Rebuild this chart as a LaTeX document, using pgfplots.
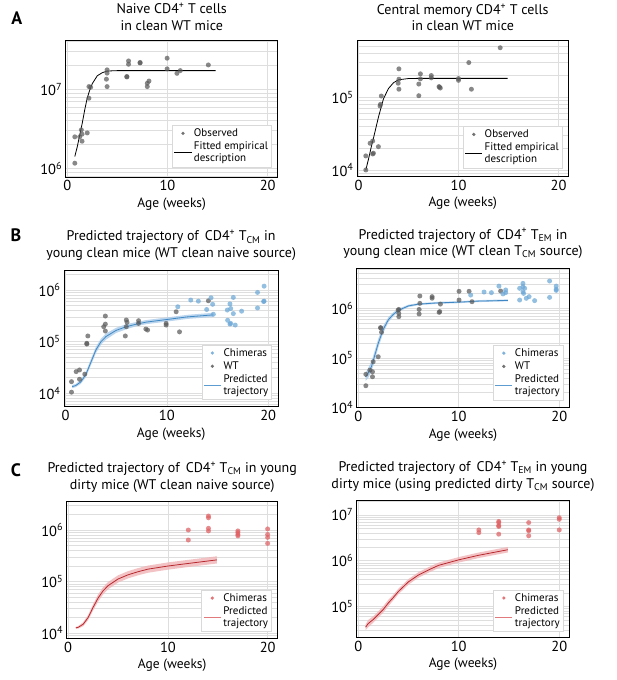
\documentclass[border=0pt]{standalone}
\usepackage{fontspec}
\setmainfont{PT Sans}
\usepackage{pgfplots}
\pgfplotsset{compat=1.18}
\definecolor{ptgray}{HTML}{5A5A5A}
\definecolor{chiblue}{HTML}{6AA6D6}
\definecolor{lineblue}{HTML}{3F88C5}
\definecolor{legblue}{HTML}{5C9CD0}
\definecolor{bandblue}{HTML}{A9CBE8}
\definecolor{chired}{HTML}{DE5F62}
\definecolor{linered}{HTML}{B8292F}
\definecolor{bandred}{HTML}{F0B3B5}
\definecolor{legred}{HTML}{E07A7C}
\pgfplotsset{
 every axis/.append style={
  scale only axis, anchor=south west,
  xmin=-0.15, xmax=21, xtick={0,10,20}, xticklabels={0,10,20}, minor x tick num=0,
  grid=both,
  major grid style={draw=black!13, line width=0.6pt},
  minor grid style={draw=black!13, line width=0.55pt},
  axis line style={line width=0.9pt},
  major tick length=0pt, minor tick length=0pt,
  tick label style={font=\fontsize{14.5}{16}\selectfont},
  xlabel={Age (weeks)},
  xlabel style={font=\fontsize{13.5}{15}\selectfont, yshift=0pt},
  title style={font=\fontsize{14}{16.5}\selectfont, align=center},
  legend cell align=left,
 },
}
\tikzset{
 mypts/.style={only marks, mark=*, mark size=2.5pt, mark options={fill=#1, draw=#1, draw opacity=0, fill opacity=0.72}},
 mylegpts/.style={only marks, mark=*, mark size=1.8pt, mark options={fill=#1, draw=#1, draw opacity=0, fill opacity=0.85}},
 myleg/.style={anchor=south east, draw=black!15, fill=white, font=\fontsize{11}{12}\selectfont, cells={align=left}, inner sep=1.5pt},
}
\begin{document}
\begin{tikzpicture}
\useasboundingbox (0,0) rectangle (617pt,680pt);
\node[font=\bfseries\fontsize{18}{18}\selectfont] at (16.7pt,662pt) {A};
\node[font=\bfseries\fontsize{18}{18}\selectfont] at (16pt,445pt) {B};
\node[font=\bfseries\fontsize{18}{18}\selectfont] at (16pt,210pt) {C};

% ---------------- A left
\begin{axis}[ymode=log, at={(65.7pt,503pt)}, width=212pt, height=137pt,
  ymin=7.76e5, ymax=4.2e7, ytick={1e6,1e7}, yticklabels={10\textsuperscript{6},10\textsuperscript{7}},
  minor ytick={8e5,9e5,2e6,3e6,4e6,5e6,6e6,7e6,8e6,9e6,2e7,3e7,4e7},
  title={Naive CD4\textsuperscript{+} T cells\\in clean WT mice},
  legend style={myleg, at={(0.972,0.073)}}]
\addplot[mypts=ptgray, forget plot] coordinates {(0.76,1.16e6)(0.76,2.5e6)(1.25,2.5e6)(1.41,3.06e6)(1.48,2.7e6)(1.48,2.2e6)(2.0,2.8e6)(2.17,7.7e6)(2.17,1.08e7)(2.34,1.06e7)(3.91,1.34e7)(3.98,1.76e7)(3.98,1.6e7)(3.98,1.08e7)(5.95,1.45e7)(5.95,1.43e7)(6.12,2.28e7)(6.12,2.07e7)(7.27,2.18e7)(7.27,2.15e7)(7.99,1.19e7)(7.99,1.08e7)(8.16,1.27e7)(9.97,2.47e7)(9.97,1.81e7)(10.95,1.59e7)(11.28,1.72e7)(14.08,2.03e7)};
\addplot[black, line width=0.8pt, forget plot] coordinates {(0.76,1.41e6)(1.0,1.86e6)(1.25,2.63e6)(1.5,3.72e6)(1.75,5.5e6)(2.0,7.76e6)(2.25,9.77e6)(2.5,1.175e7)(3.0,1.48e7)(3.5,1.62e7)(4.0,1.70e7)(5.0,1.72e7)(14.8,1.72e7)};
\addlegendimage{mylegpts=ptgray}\addlegendentry{Observed}
\addlegendimage{color=black, line width=0.8pt}\addlegendentry{Fitted empirical\\description}
\end{axis}

% ---------------- A right
\begin{axis}[ymode=log, at={(357pt,503.5pt)}, width=211.5pt, height=136pt,
  ymin=8.13e3, ymax=6.04e5, ytick={1e4,1e5}, yticklabels={10\textsuperscript{4},10\textsuperscript{5}},
  minor ytick={9e3,2e4,3e4,4e4,5e4,6e4,7e4,8e4,9e4,2e5,3e5,4e5,5e5,6e5},
  title={Central memory CD4\textsuperscript{+} T cells\\in clean WT mice},
  legend style={myleg, at={(0.972,0.062)}}]
\addplot[mypts=ptgray, forget plot] coordinates {(0.73,1.0e4)(0.73,1.56e4)(1.16,2.33e4)(1.42,2.5e4)(1.42,1.66e4)(1.49,1.7e4)(1.99,2.09e4)(2.15,7.6e4)(2.2,8.0e4)(2.28,1.04e5)(4.04,2.46e5)(4.04,1.77e5)(3.97,1.56e5)(4.04,1.29e5)(6.03,1.05e5)(6.03,1.52e5)(6.19,2.1e5)(6.19,1.79e5)(7.28,1.99e5)(7.28,1.85e5)(8.05,1.4e5)(8.18,1.34e5)(8.1,1.38e5)(10.0,1.81e5)(10.0,1.71e5)(11.03,3.0e5)(11.29,1.29e5)(14.17,4.8e5)};
\addplot[black, line width=0.8pt, forget plot] coordinates {(0.73,1.0e4)(1.0,1.41e4)(1.25,2.0e4)(1.5,2.75e4)(2.0,5.37e4)(2.5,9.55e4)(3.0,1.32e5)(3.5,1.585e5)(4.0,1.74e5)(5.0,1.81e5)(6.0,1.82e5)(14.9,1.82e5)};
\addlegendimage{mylegpts=ptgray}\addlegendentry{Observed}
\addlegendimage{color=black, line width=0.8pt}\addlegendentry{Fitted empirical\\description}
\end{axis}

% ---------------- B left
\begin{axis}[ymode=log, at={(64pt,273.3pt)}, width=214.3pt, height=136.7pt,
  ymin=5.5e3, ymax=2.45e6, ytick={1e4,1e5,1e6}, yticklabels={10\textsuperscript{4},10\textsuperscript{5},10\textsuperscript{6}},
  minor ytick={6e3,7e3,8e3,9e3,2e4,3e4,4e4,5e4,6e4,7e4,8e4,9e4,2e5,3e5,4e5,5e5,6e5,7e5,8e5,9e5,2e6},
  title={Predicted trajectory of\, CD4\textsuperscript{+} T\textsubscript{CM} in\\young clean mice (WT clean naive source)},
  legend style={myleg, at={(0.97,0.05)}}]
\addplot[mypts=ptgray, forget plot] coordinates {(0.59,1.68e4)(0.59,1.05e4)(1.05,2.63e4)(1.38,2.83e4)(1.38,1.87e4)(1.9,2.35e4)(2.1,9.3e4)(2.1,9.0e4)(2.2,1.29e5)(3.93,3.14e5)(3.77,1.95e5)(3.93,2.19e5)(3.93,1.61e5)(5.9,1.29e5)(6.0,2.63e5)(6.0,1.95e5)(6.07,2.37e5)(7.21,2.55e5)(7.21,2.26e5)(7.93,1.76e5)(8.1,1.68e5)(9.93,2.26e5)(9.93,2.1e5)(10.92,3.8e5)(11.25,1.55e5)(14.1,6.2e5)};
\addplot[mypts=chiblue, forget plot] coordinates {(11.08,4.75e5)(12.36,6.4e5)(13.11,6.1e5)(13.93,4.2e5)(14.36,7.1e5)(14.52,5.3e5)(14.59,3.4e5)(15.97,4.1e5)(16.23,5.4e5)(16.3,4.4e5)(16.56,7.2e5)(16.56,3.5e5)(16.0,2.6e5)(16.23,2.2e5)(16.3,2.26e5)(16.75,2.1e5)(17.38,3.9e5)(18.95,9.0e5)(18.95,4.5e5)(19.6,1.19e6)(19.6,6.1e5)(19.55,6.0e5)};
\addplot[fill=bandblue, draw=none, fill opacity=0.8, forget plot] coordinates {(0.66,1.45e4)(1.0,1.51e4)(1.5,1.82e4)(2.0,2.57e4)(2.5,4.57e4)(3.0,7.94e4)(3.5,1.148e5)(4.0,1.446e5)(5,1.86e5)(6,2.19e5)(7,2.40e5)(8,2.63e5)(10,2.95e5)(12,3.31e5)(14.6,3.63e5)
 (14.6,3.02e5)(12,2.76e5)(10,2.45e5)(8,2.19e5)(7,2.0e5)(6,1.74e5)(5,1.48e5)(4.0,1.10e5)(3.5,8.71e4)(3.0,6.03e4)(2.5,3.47e4)(2.0,2.04e4)(1.5,1.515e4)(1.0,1.315e4)(0.66,1.26e4)};
\addplot[lineblue, line width=0.8pt, forget plot] coordinates {(0.66,1.35e4)(1.0,1.41e4)(1.5,1.66e4)(2.0,2.29e4)(2.5,3.98e4)(3.0,6.92e4)(3.5,1.0e5)(4.0,1.26e5)(5,1.66e5)(6,1.95e5)(7,2.19e5)(8,2.40e5)(10,2.69e5)(12,3.02e5)(14.6,3.31e5)};
\addlegendimage{mylegpts=chiblue}\addlegendentry{Chimeras}
\addlegendimage{mylegpts=ptgray}\addlegendentry{WT}
\addlegendimage{color=legblue, line width=1.2pt}\addlegendentry{Predicted\\trajectory}
\end{axis}

% ---------------- B right
\begin{axis}[ymode=log, at={(356.7pt,272.3pt)}, width=212.6pt, height=139.4pt,
  ymin=1e4, ymax=6.4e6, ytick={1e4,1e5,1e6}, yticklabels={10\textsuperscript{4},10\textsuperscript{5},10\textsuperscript{6}},
  minor ytick={2e4,3e4,4e4,5e4,6e4,7e4,8e4,9e4,2e5,3e5,4e5,5e5,6e5,7e5,8e5,9e5,2e6,3e6,4e6,5e6,6e6},
  title={Predicted trajectory of\, CD4\textsuperscript{+} T\textsubscript{EM} in\\young clean mice (WT clean T\textsubscript{CM} source)},
  legend style={myleg, at={(0.972,0.055)}}]
\addplot[mypts=ptgray, forget plot] coordinates {(0.76,2.77e4)(0.76,4.7e4)(1.16,5.7e4)(1.42,5.3e4)(1.42,4.2e4)(1.49,8.4e4)(1.99,1.06e5)(2.22,4.1e5)(2.25,4.0e5)(2.32,3.3e5)(3.97,9.2e5)(4.04,9.5e5)(4.04,7.9e5)(4.04,6.8e5)(6.13,1.77e6)(6.13,1.26e6)(6.06,9.5e5)(6.06,7.7e5)(7.35,1.72e6)(7.35,1.6e6)(8.11,8.6e5)(8.05,8.3e5)(8.18,1.22e6)(10.03,2.2e6)(10.03,1.47e6)(11.03,2.2e6)(11.32,1.36e6)(14.17,2.23e6)};
\addplot[mypts=chiblue, forget plot] coordinates {(11.19,1.85e6)(12.52,2.13e6)(13.25,2.07e6)(14.0,2.8e6)(14.4,1.95e6)(14.67,2.34e6)(14.67,2.07e6)(16.06,2.53e6)(16.06,1.47e6)(16.39,3.18e6)(16.39,2.73e6)(16.56,2.53e6)(16.39,2.17e6)(16.45,2.0e6)(16.72,1.59e6)(17.0,1.72e6)(17.55,1.43e6)(19.04,3.55e6)(19.04,1.66e6)(19.7,2.8e6)(19.7,2.42e6)(19.7,2.3e6)};
\addplot[fill=bandblue, draw=none, fill opacity=0.8, forget plot] coordinates {(0.73,5.01e4)(1.0,6.31e4)(1.32,8.51e4)(1.5,1.12e5)(2.0,2.46e5)(2.5,4.47e5)(3.0,6.61e5)(3.5,8.32e5)(4.0,9.78e5)(5,1.186e6)(6,1.273e6)(8,1.351e6)(10,1.393e6)(12,1.466e6)(14.9,1.513e6)
 (14.9,1.38e6)(12,1.337e6)(10,1.27e6)(8,1.232e6)(6,1.161e6)(5,1.058e6)(4.0,8.51e5)(3.5,6.93e5)(3.0,5.25e5)(2.5,3.23e5)(2.0,1.63e5)(1.5,7.08e4)(1.32,5.37e4)(1.0,3.98e4)(0.73,3.47e4)};
\addplot[lineblue, line width=0.8pt, forget plot] coordinates {(0.73,4.17e4)(1.0,5.01e4)(1.32,6.76e4)(1.5,8.91e4)(2.0,2.0e5)(2.5,3.80e5)(3.0,5.89e5)(3.5,7.59e5)(4.0,9.12e5)(5,1.12e6)(6,1.216e6)(8,1.29e6)(10,1.33e6)(12,1.40e6)(14.9,1.445e6)};
\addlegendimage{mylegpts=chiblue}\addlegendentry{Chimeras}
\addlegendimage{mylegpts=ptgray}\addlegendentry{WT}
\addlegendimage{color=legblue, line width=1.2pt}\addlegendentry{Predicted\\trajectory}
\end{axis}

% ---------------- C left
\begin{axis}[ymode=log, at={(66.7pt,41.7pt)}, width=211pt, height=136.6pt,
  ymin=7.9e3, ymax=3.55e6, ytick={1e4,1e5,1e6}, yticklabels={10\textsuperscript{4},10\textsuperscript{5},10\textsuperscript{6}},
  minor ytick={8e3,9e3,2e4,3e4,4e4,5e4,6e4,7e4,8e4,9e4,2e5,3e5,4e5,5e5,6e5,7e5,8e5,9e5,2e6,3e6},
  title={Predicted trajectory of\, CD4\textsuperscript{+} T\textsubscript{CM} in young\\dirty mice (WT clean naive source)},
  legend style={myleg, at={(0.972,0.048)}}]
\addplot[mypts=chired, forget plot] coordinates {(12.04,1.0e6)(12.04,6.4e5)(14.06,1.87e6)(14.06,1.73e6)(14.06,1.08e6)(14.06,9.6e5)(17.01,9.6e5)(17.01,8.9e5)(17.01,8.2e5)(17.01,7.7e5)(19.99,1.05e6)(19.99,8.2e5)(19.99,7.2e5)(19.99,5.5e5)};
\addplot[fill=bandred, draw=none, fill opacity=0.8, forget plot] coordinates {(0.76,1.32e4)(1.0,1.36e4)(1.5,1.62e4)(2,2.24e4)(2.5,3.63e4)(3,5.62e4)(3.5,7.76e4)(4,9.77e4)(5,1.32e5)(6,1.59e5)(7,1.82e5)(8,2.04e5)(10,2.35e5)(12,2.63e5)(14.9,3.09e5)
 (14.9,2.24e5)(12,1.91e5)(10,1.70e5)(8,1.48e5)(7,1.32e5)(6,1.15e5)(5,9.55e4)(4,7.08e4)(3.5,5.62e4)(3,4.07e4)(2.5,2.75e4)(2,1.78e4)(1.5,1.35e4)(1.0,1.22e4)(0.76,1.20e4)};
\addplot[linered, line width=0.8pt, forget plot] coordinates {(0.76,1.26e4)(1.0,1.29e4)(1.5,1.48e4)(2,2.0e4)(2.5,3.16e4)(3,4.79e4)(3.5,6.61e4)(4,8.32e4)(5,1.12e5)(6,1.35e5)(7,1.55e5)(8,1.74e5)(10,2.0e5)(12,2.24e5)(14.9,2.63e5)};
\addlegendimage{mylegpts=chired}\addlegendentry{Chimeras}
\addlegendimage{color=legred, line width=1.2pt}\addlegendentry{Predicted\\trajectory}
\end{axis}

% ---------------- C right
\begin{axis}[ymode=log, at={(356.7pt,42.7pt)}, width=212.6pt, height=136.6pt,
  ymin=2.14e4, ymax=2.04e7, ytick={1e5,1e6,1e7}, yticklabels={10\textsuperscript{5},10\textsuperscript{6},10\textsuperscript{7}},
  minor ytick={3e4,4e4,5e4,6e4,7e4,8e4,9e4,2e5,3e5,4e5,5e5,6e5,7e5,8e5,9e5,2e6,3e6,4e6,5e6,6e6,7e6,8e6,9e6,2e7},
  title={Predicted trajectory of\, CD4\textsuperscript{+} T\textsubscript{EM} in young\\dirty mice (using predicted dirty T\textsubscript{CM} source)},
  legend style={myleg, at={(0.972,0.041)}}]
\addplot[mypts=chired, forget plot] coordinates {(12.0,4.7e6)(12.0,4.1e6)(13.98,7.2e6)(13.98,6.8e6)(13.98,5.85e6)(13.98,5.6e6)(13.98,3.8e6)(16.96,6.8e6)(16.96,4.7e6)(16.96,4.5e6)(16.96,3.5e6)(20.0,8.7e6)(20.0,8.0e6)(20.0,4.7e6)};
\addplot[fill=bandred, draw=none, fill opacity=0.8, forget plot] coordinates {(0.73,4.08e4)(1.0,5.13e4)(1.5,6.17e4)(2,7.94e4)(2.5,1.023e5)(3,1.41e5)(3.5,1.82e5)(4,2.457e5)(5,3.98e5)(6,5.63e5)(7,7.24e5)(8,9.12e5)(10,1.202e6)(12,1.513e6)(14.88,1.995e6)
 (14.88,1.514e6)(12,1.148e6)(10,9.12e5)(8,6.92e5)(7,5.50e5)(6,4.27e5)(5,3.02e5)(4,1.864e5)(3.5,1.38e5)(3,1.02e5)(2.5,7.41e4)(2,5.75e4)(1.5,4.47e4)(1.0,3.55e4)(0.73,3.09e4)};
\addplot[linered, line width=0.8pt, forget plot] coordinates {(0.73,3.55e4)(1.0,4.27e4)(1.5,5.25e4)(2,6.76e4)(2.5,8.71e4)(3,1.20e5)(3.5,1.585e5)(4,2.14e5)(5,3.47e5)(6,4.90e5)(7,6.31e5)(8,7.94e5)(10,1.047e6)(12,1.318e6)(14.88,1.738e6)};
\addlegendimage{mylegpts=chired}\addlegendentry{Chimeras}
\addlegendimage{color=legred, line width=1.2pt}\addlegendentry{Predicted\\trajectory}
\end{axis}
\end{tikzpicture}
\end{document}
